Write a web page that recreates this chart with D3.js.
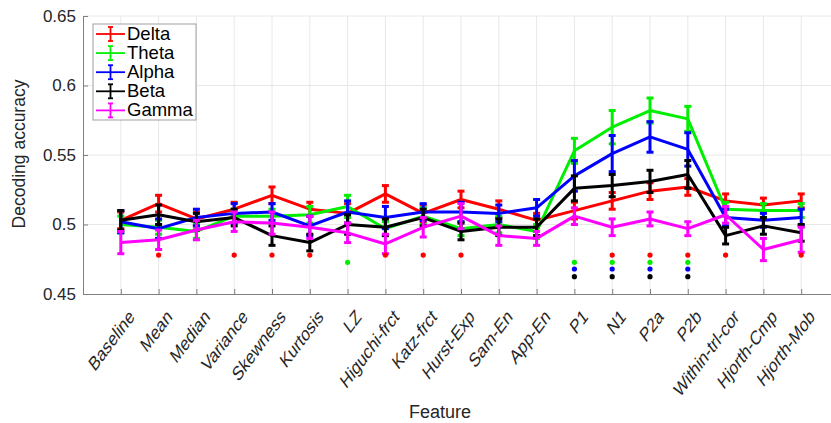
<!DOCTYPE html>
<html>
<head>
<meta charset="utf-8">
<script src="https://cdn.jsdelivr.net/npm/d3@7"></script>
<style>
  body { margin: 0; background: #fff; }
  svg { display: block; font-family: "Liberation Sans", Arial, sans-serif; }
</style>
</head>
<body>
<svg width="831" height="423"></svg>
<script>
const w = 831;
const h = 423;

const features = ['Baseline', 'Mean', 'Median', 'Variance', 'Skewness', 'Kurtosis', 'LZ',
  'Higuchi-frct', 'Katz-frct', 'Hurst-Exp', 'Sam-En', 'App-En', 'P1', 'N1', 'P2a', 'P2b',
  'Within-trl-cor', 'Hjorth-Cmp', 'Hjorth-Mob'];

const bands = ['Delta', 'Theta', 'Alpha', 'Beta', 'Gamma'];
const colors = ['#ff0000', '#00ee00', '#0000ff', '#000000', '#ff00ff'];

const delta = [0.503, 0.515, 0.504, 0.511, 0.521, 0.511, 0.508, 0.522, 0.508, 0.518, 0.511, 0.503, 0.510, 0.517, 0.524, 0.527, 0.517, 0.514, 0.517];
const theta = [0.500, 0.498, 0.495, 0.506, 0.506, 0.507, 0.513, 0.497, 0.506, 0.497, 0.500, 0.495, 0.553, 0.570, 0.582, 0.576, 0.511, 0.510, 0.510];
const alpha = [0.502, 0.497, 0.505, 0.508, 0.509, 0.499, 0.509, 0.505, 0.509, 0.509, 0.508, 0.512, 0.535, 0.551, 0.563, 0.554, 0.505, 0.503, 0.505];
const beta  = [0.503, 0.507, 0.502, 0.505, 0.492, 0.487, 0.500, 0.498, 0.505, 0.495, 0.498, 0.498, 0.526, 0.528, 0.531, 0.536, 0.492, 0.499, 0.494];
const gamma = [0.487, 0.489, 0.496, 0.502, 0.501, 0.498, 0.494, 0.486, 0.498, 0.506, 0.492, 0.490, 0.506, 0.498, 0.504, 0.497, 0.507, 0.482, 0.489];

const deltaErr = [0.006, 0.006, 0.005, 0.005, 0.006, 0.005, 0.007, 0.006, 0.006, 0.006, 0.006, 0.005, 0.006, 0.006, 0.006, 0.006, 0.005, 0.005, 0.005];
const thetaErr = [0.006, 0.005, 0.005, 0.005, 0.005, 0.006, 0.008, 0.005, 0.006, 0.005, 0.006, 0.005, 0.009, 0.012, 0.009, 0.009, 0.005, 0.005, 0.005];
const alphaErr = [0.008, 0.007, 0.006, 0.007, 0.006, 0.007, 0.008, 0.008, 0.006, 0.007, 0.006, 0.006, 0.011, 0.013, 0.011, 0.012, 0.006, 0.005, 0.006];
const betaErr  = [0.007, 0.007, 0.006, 0.006, 0.007, 0.006, 0.007, 0.006, 0.006, 0.006, 0.006, 0.006, 0.009, 0.008, 0.008, 0.010, 0.006, 0.006, 0.006];
const gammaErr = [0.008, 0.007, 0.007, 0.007, 0.008, 0.008, 0.007, 0.007, 0.007, 0.009, 0.007, 0.005, 0.006, 0.006, 0.005, 0.005, 0.006, 0.008, 0.009];

// significance markers: feature indices per band, and the level they sit at
const deltaSig = [1, 3, 4, 5, 7, 8, 9, 13, 14, 15, 16, 18];
const thetaSig = [6, 12, 13, 14, 15];
const alphaSig = [12, 13, 14, 15];
const betaSig  = [12, 13, 14, 15];
const gammaSig = [];
const sigLevels = [0.478, 0.4728, 0.468, 0.4625, 0.457];

const yTicks = [0.45, 0.5, 0.55, 0.6, 0.65];

const series = [delta, theta, alpha, beta, gamma];
const errs = [deltaErr, thetaErr, alphaErr, betaErr, gammaErr];
const sigs = [deltaSig, thetaSig, alphaSig, betaSig, gammaSig];

const padLeft = 83;
const padTop = 16;
const axisY = 294;

const svg = d3.select('svg');

const xScale = d3.scaleLinear().domain([0, 20]).range([padLeft, padLeft + 20 * 37.8]);
const yScale = d3.scaleLinear().domain([0.45, 0.65]).range([axisY, padTop]);

// grid
svg.append('g')
  .selectAll('line')
  .data(d3.range(1, features.length + 1))
  .enter()
  .append('line')
  .attr('x1', (d) => xScale(d)).attr('x2', (d) => xScale(d))
  .attr('y1', padTop).attr('y2', axisY)
  .attr('stroke', '#e8e8e8').attr('stroke-width', 1);
svg.append('g')
  .selectAll('line')
  .data(yTicks.slice(1))
  .enter()
  .append('line')
  .attr('x1', padLeft).attr('x2', w)
  .attr('y1', (d) => yScale(d)).attr('y2', (d) => yScale(d))
  .attr('stroke', '#e8e8e8').attr('stroke-width', 1);

// axes
const xAxis = d3.axisBottom(xScale)
  .tickValues(d3.range(1, features.length + 1))
  .tickFormat((d) => features[d - 1])
  .tickSizeInner(-5).tickSizeOuter(0);
const yAxis = d3.axisLeft(yScale)
  .tickValues(yTicks)
  .tickFormat((d) => String(+d.toFixed(2)))
  .tickSizeInner(-5).tickSizeOuter(0);

const gx = svg.append('g').attr('transform', `translate(0,${axisY})`).call(xAxis);
gx.select('.domain').attr('stroke', '#808080');
gx.selectAll('.tick line').attr('stroke', '#808080');
gx.selectAll('.tick text')
  .attr('font-size', 20).attr('fill', '#262626')
  .attr('text-anchor', 'end')
  .attr('dy', 0).attr('y', 0)
  .attr('transform', 'translate(14,24) scale(0.75,1) rotate(-45)');

const gy = svg.append('g').attr('transform', `translate(${padLeft},0)`).call(yAxis);
gy.select('.domain').attr('stroke', '#808080');
gy.selectAll('.tick line').attr('stroke', '#808080');
gy.selectAll('.tick text').attr('font-size', 17).attr('fill', '#262626').attr('x', -7);

svg.append('text')
  .attr('transform', `translate(25,154) rotate(-90)`)
  .attr('text-anchor', 'middle')
  .attr('font-size', 17.5).attr('fill', '#262626')
  .text('Decoding accuracy');
svg.append('text')
  .attr('x', 440).attr('y', 418)
  .attr('text-anchor', 'middle')
  .attr('font-size', 18).attr('fill', '#262626')
  .text('Feature');

// series
const line = d3.line().x((d, i) => xScale(i + 1)).y((d) => yScale(d));
const cap = 3.5;

series.forEach((vals, s) => {
  const g = svg.append('g');
  g.append('path')
    .datum(vals)
    .attr('d', line)
    .attr('fill', 'none')
    .attr('stroke', colors[s]).attr('stroke-width', 3)
    .attr('stroke-linejoin', 'round');
  const eb = g.selectAll('g.eb').data(vals).enter().append('g');
  eb.append('line')
    .attr('x1', (d, i) => xScale(i + 1)).attr('x2', (d, i) => xScale(i + 1))
    .attr('y1', (d, i) => yScale(d - errs[s][i])).attr('y2', (d, i) => yScale(d + errs[s][i]))
    .attr('stroke', colors[s]).attr('stroke-width', 3);
  [-1, 1].forEach((sign) => {
    eb.append('line')
      .attr('x1', (d, i) => xScale(i + 1) - cap).attr('x2', (d, i) => xScale(i + 1) + cap)
      .attr('y1', (d, i) => yScale(d + sign * errs[s][i]))
      .attr('y2', (d, i) => yScale(d + sign * errs[s][i]))
      .attr('stroke', colors[s]).attr('stroke-width', 3);
  });
});

// significance dots
sigs.forEach((idx, s) => {
  svg.append('g')
    .selectAll('circle')
    .data(idx)
    .enter()
    .append('circle')
    .attr('cx', (d) => xScale(d + 1))
    .attr('cy', yScale(sigLevels[s]))
    .attr('r', 2.6)
    .attr('fill', colors[s]);
});

// legend
const lg = svg.append('g');
lg.append('rect')
  .attr('x', 93).attr('y', 24).attr('width', 103).attr('height', 96)
  .attr('fill', '#fff').attr('stroke', '#a0a0a0').attr('stroke-width', 1);
bands.forEach((b, i) => {
  const yy = 34 + i * 19.1;
  const row = lg.append('g').attr('transform', `translate(0,${yy})`);
  row.append('line').attr('x1', 96).attr('x2', 125).attr('y1', 0).attr('y2', 0)
    .attr('stroke', colors[i]).attr('stroke-width', 1.8);
  row.append('line').attr('x1', 110.5).attr('x2', 110.5).attr('y1', -7).attr('y2', 7)
    .attr('stroke', colors[i]).attr('stroke-width', 1.8);
  [-7, 7].forEach((dy) => {
    row.append('line').attr('x1', 108).attr('x2', 113).attr('y1', dy).attr('y2', dy)
      .attr('stroke', colors[i]).attr('stroke-width', 1.8);
  });
  row.append('text').attr('x', 127).attr('y', 6)
    .attr('font-size', 18.5).attr('fill', '#000')
    .text(b);
});
</script>
</body>
</html>
